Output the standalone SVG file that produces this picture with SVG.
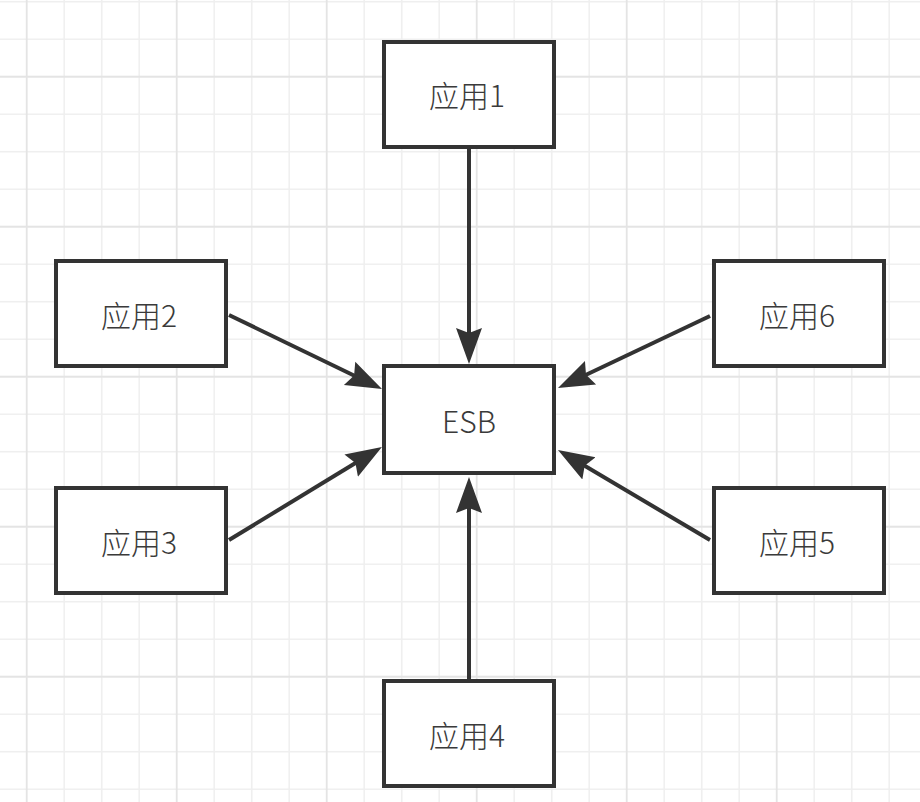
<svg xmlns="http://www.w3.org/2000/svg" width="920" height="802" viewBox="0 0 920 802">
  <style>
    .box { fill: #ffffff; stroke: #333333; stroke-width: 4; }
    .lbl { font-family: "Noto Sans CJK SC", "Noto Sans", sans-serif; font-size: 30px; font-weight: 300; fill: #3a3a3a; text-anchor: middle; dominant-baseline: central; }
    .edge { stroke: #333333; stroke-width: 4; fill: none; marker-end: url(#arrow); }
  </style>
  <defs>
    <pattern id="grid" patternUnits="userSpaceOnUse" x="-67.05" y="-17.05" width="150" height="150">
      <path d="M18.75 0V150M56.25 0V150M131.25 0V150M0 18.75H150M0 56.25H150M0 131.25H150" stroke="#efefef" stroke-width="1.6" fill="none"/>
      <path d="M93.75 0V150M0 93.75H150" stroke="#e4e4e4" stroke-width="1.8" fill="none"/>
    </pattern>
    <marker id="arrow" markerUnits="userSpaceOnUse" markerWidth="40" markerHeight="30" viewBox="0 -14 40 28" refX="6" refY="0" orient="auto">
      <path d="M0,-13 L36,0 L0,13 L5,0 Z" fill="#333333"/>
    </marker>
  </defs>
  <rect x="0" y="0" width="920" height="802" fill="#ffffff"/>
  <rect x="0" y="0" width="920" height="802" fill="url(#grid)"/>

  <g id="connectors">
    <line class="edge" x1="469" y1="149" x2="469" y2="334"/>
    <line class="edge" x1="469" y1="679" x2="469" y2="507"/>
    <line class="edge" x1="229" y1="315" x2="355" y2="376"/>
    <line class="edge" x1="229" y1="540" x2="356.3" y2="462.5"/>
    <line class="edge" x1="710" y1="316" x2="585.1" y2="375.2"/>
    <line class="edge" x1="710" y1="540" x2="583.8" y2="465.3"/>
  </g>

  <g id="app1">
    <rect class="box" x="384" y="42" width="170" height="105"/>
    <text class="lbl" x="467" y="94">应用1</text>
  </g>
  <g id="app2">
    <rect class="box" x="56" y="261" width="170" height="105"/>
    <text class="lbl" x="139" y="314">应用2</text>
  </g>
  <g id="esb">
    <rect class="box" x="384" y="366" width="170" height="107"/>
    <text class="lbl" x="469" y="420">ESB</text>
  </g>
  <g id="app3">
    <rect class="box" x="56" y="488" width="170" height="105"/>
    <text class="lbl" x="139" y="541">应用3</text>
  </g>
  <g id="app4">
    <rect class="box" x="384" y="681" width="170" height="105"/>
    <text class="lbl" x="467" y="734">应用4</text>
  </g>
  <g id="app5">
    <rect class="box" x="714" y="488" width="170" height="105"/>
    <text class="lbl" x="797" y="541">应用5</text>
  </g>
  <g id="app6">
    <rect class="box" x="714" y="261" width="170" height="105"/>
    <text class="lbl" x="797" y="314">应用6</text>
  </g>
</svg>
